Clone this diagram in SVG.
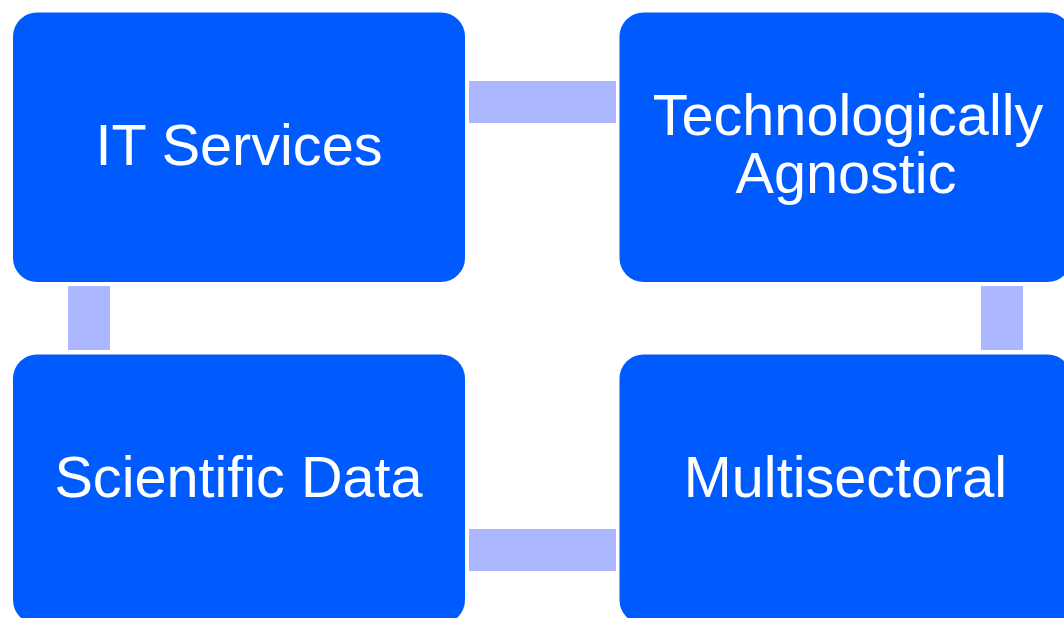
<svg xmlns="http://www.w3.org/2000/svg" width="1064" height="618" viewBox="0 0 1064 618">
<style>
.box{fill:#005BFF}
.conn{fill:#ACB7FF}
.lbl{font-family:"Liberation Sans",Arial,sans-serif;font-size:57.6px;fill:#FFFFFF;text-anchor:middle}
</style>
<rect width="1064" height="618" fill="#FFFFFF"/>
<g id="connectors">
<rect class="conn" x="469" y="81" width="147" height="42"/>
<rect class="conn" x="68" y="286" width="42" height="64"/>
<rect class="conn" x="981" y="286" width="42" height="64"/>
<rect class="conn" x="469" y="529" width="147" height="42"/>
</g>
<g id="it-services">
<rect class="box" x="13" y="12.5" width="452" height="269.5" rx="24"/>
<text class="lbl" x="239" y="164.5">IT Services</text>
</g>
<g id="technologically-agnostic">
<rect class="box" x="619.5" y="12.5" width="452" height="269.5" rx="24"/>
<text class="lbl" x="848" y="134.5">Technologically</text>
<text class="lbl" x="846" y="193">Agnostic</text>
</g>
<g id="scientific-data">
<rect class="box" x="13" y="354.5" width="452" height="269.5" rx="24"/>
<text class="lbl" x="238.5" y="496.5">Scientific Data</text>
</g>
<g id="multisectoral">
<rect class="box" x="619.5" y="354.5" width="452" height="269.5" rx="24"/>
<text class="lbl" x="845.5" y="496.5">Multisectoral</text>
</g>
</svg>
